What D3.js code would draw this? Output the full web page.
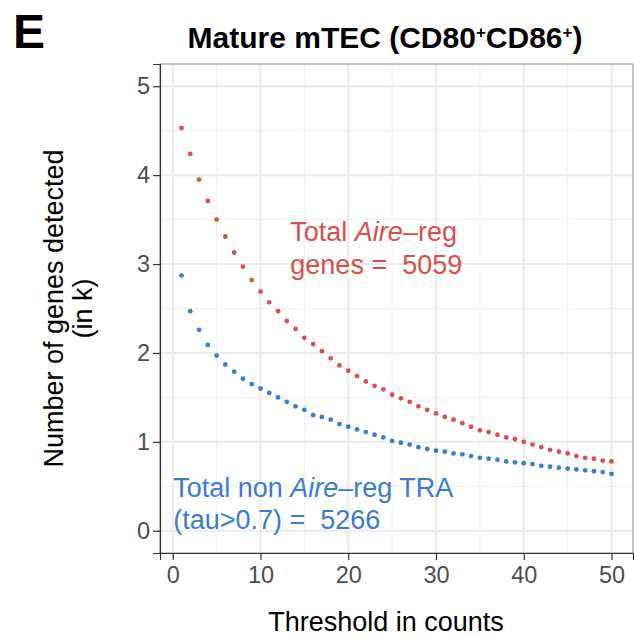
<!DOCTYPE html>
<html>
<head>
<meta charset="utf-8">
<script src="https://cdn.jsdelivr.net/npm/d3@7"></script>
<style>
  body { margin: 0; background: #fff; }
  text { font-family: 'Liberation Sans', Arial, sans-serif; }
</style>
</head>
<body>
<div id="chart"></div>
<script>
const thresholds = [1, 2, 3, 4, 5, 6, 7, 8, 9, 10, 11, 12, 13, 14, 15, 16, 17, 18, 19, 20,
  21, 22, 23, 24, 25, 26, 27, 28, 29, 30, 31, 32, 33, 34, 35, 36, 37, 38, 39, 40,
  41, 42, 43, 44, 45, 46, 47, 48, 49, 50]

// genes detected (in k), Aire-regulated
const aireReg = [4.53, 4.24, 3.95, 3.71, 3.50, 3.31, 3.13, 2.97, 2.82, 2.69,
  2.57, 2.47, 2.36, 2.27, 2.17, 2.10, 2.02, 1.94, 1.86, 1.80,
  1.74, 1.68, 1.63, 1.59, 1.53, 1.49, 1.45, 1.40, 1.36, 1.32,
  1.28, 1.25, 1.21, 1.17, 1.13, 1.11, 1.08, 1.05, 1.03, 1.00,
  0.97, 0.94, 0.91, 0.89, 0.87, 0.84, 0.82, 0.81, 0.79, 0.78]

// genes detected (in k), non Aire-regulated TRA
const nonAireTra = [2.87, 2.47, 2.26, 2.09, 1.97, 1.87, 1.79, 1.71, 1.65, 1.60,
  1.55, 1.50, 1.45, 1.40, 1.36, 1.30, 1.28, 1.25, 1.20, 1.17,
  1.14, 1.11, 1.08, 1.05, 1.01, 0.99, 0.97, 0.94, 0.92, 0.90,
  0.89, 0.87, 0.86, 0.84, 0.82, 0.81, 0.80, 0.78, 0.77, 0.76,
  0.75, 0.73, 0.72, 0.71, 0.70, 0.69, 0.68, 0.67, 0.66, 0.64]

const xTicks = [0, 10, 20, 30, 40, 50]
const yTicks = [0, 1, 2, 3, 4, 5]
const xMinor = [5, 15, 25, 35, 45]
const yMinor = [0.5, 1.5, 2.5, 3.5, 4.5]

const red = '#d4504f'
const blue = '#3d7cc6'

const W = 634, H = 637
const margin = { top: 64, left: 160, right: 1, bottom: 84 }
const width = W - margin.left - margin.right
const height = H - margin.top - margin.bottom

const svg = d3.select('#chart')
  .append('svg')
  .attr('width', W)
  .attr('height', H)

const x = d3.scaleLinear().domain([-1.45, 52.45]).range([margin.left, margin.left + width])
const y = d3.scaleLinear().domain([-0.25, 5.25]).range([margin.top + height, margin.top])

// panel gridlines
const grid = svg.append('g')
grid.selectAll('.xminor').data(xMinor).enter().append('line')
  .attr('x1', d => x(d)).attr('x2', d => x(d))
  .attr('y1', margin.top).attr('y2', margin.top + height)
  .attr('stroke', '#f0f0f0').attr('stroke-width', 1)
grid.selectAll('.yminor').data(yMinor).enter().append('line')
  .attr('y1', d => y(d)).attr('y2', d => y(d))
  .attr('x1', margin.left).attr('x2', margin.left + width)
  .attr('stroke', '#f0f0f0').attr('stroke-width', 1)
grid.selectAll('.xmajor').data(xTicks).enter().append('line')
  .attr('x1', d => x(d)).attr('x2', d => x(d))
  .attr('y1', margin.top).attr('y2', margin.top + height)
  .attr('stroke', '#ebebeb').attr('stroke-width', 2)
grid.selectAll('.ymajor').data(yTicks).enter().append('line')
  .attr('y1', d => y(d)).attr('y2', d => y(d))
  .attr('x1', margin.left).attr('x2', margin.left + width)
  .attr('stroke', '#ebebeb').attr('stroke-width', 2)

// panel border
svg.append('rect')
  .attr('x', margin.left).attr('y', margin.top)
  .attr('width', width).attr('height', height)
  .attr('fill', 'none').attr('stroke', '#8a8a8a').attr('stroke-width', 1)

// points
svg.append('g').selectAll('circle')
  .data(thresholds).enter().append('circle')
  .attr('cx', d => x(d))
  .attr('cy', (d, i) => y(aireReg[i]))
  .attr('r', 2.4)
  .attr('fill', red)

svg.append('g').selectAll('circle')
  .data(thresholds).enter().append('circle')
  .attr('cx', d => x(d))
  .attr('cy', (d, i) => y(nonAireTra[i]))
  .attr('r', 2.4)
  .attr('fill', blue)

/* axes */
const xAxis = svg.append('g')
  .attr('transform', 'translate(0,' + (margin.top + height) + ')')
  .call(d3.axisBottom(x).tickValues(xTicks).tickFormat(d3.format('d')).tickSize(7).tickPadding(6))
const yAxis = svg.append('g')
  .attr('transform', 'translate(' + margin.left + ',0)')
  .call(d3.axisLeft(y).tickValues(yTicks).tickFormat(d3.format('d')).tickSize(7).tickPadding(3))

;[xAxis, yAxis].forEach(a => {
  a.select('.domain').attr('stroke', '#333').attr('stroke-width', 1.2)
  a.selectAll('.tick line').attr('stroke', '#333').attr('stroke-width', 1.2)
  a.selectAll('.tick text')
    .attr('fill', '#4d4d4d')
    .attr('font-size', 23.5)
    .attr('font-family', "'Liberation Sans', Arial, sans-serif")
})

// titles
svg.append('text')
  .text('E')
  .attr('x', 13).attr('y', 48)
  .attr('font-size', 48)
  .attr('font-weight', 'bold')

const title = svg.append('text')
  .attr('x', 385).attr('y', 48)
  .attr('text-anchor', 'middle')
  .attr('font-size', 30)
  .attr('font-weight', 'bold')
title.append('tspan').text('Mature mTEC (CD80')
title.append('tspan').text('+').attr('font-size', 17).attr('dy', -10)
title.append('tspan').text('CD86').attr('dy', 10)
title.append('tspan').text('+').attr('font-size', 17).attr('dy', -10)
title.append('tspan').text(')').attr('dy', 10)

svg.append('text')
  .text('Threshold in counts')
  .attr('x', 386).attr('y', 631)
  .attr('text-anchor', 'middle')
  .attr('font-size', 27)

const yTitle = svg.append('g')
  .attr('transform', 'translate(0,' + (margin.top + height / 2) + ') rotate(-90)')
yTitle.append('text').text('Number of genes detected')
  .attr('x', 0).attr('y', 63)
  .attr('text-anchor', 'middle').attr('font-size', 27)
yTitle.append('text').text('(in k)')
  .attr('x', 0).attr('y', 92)
  .attr('text-anchor', 'middle').attr('font-size', 27)

// annotations
const redLabel = svg.append('text')
  .attr('x', x(13.4)).attr('y', y(3.26))
  .attr('fill', red).attr('font-size', 27)
redLabel.append('tspan').text('Total ')
redLabel.append('tspan').text('Aire').attr('font-style', 'italic')
redLabel.append('tspan').text('–reg')
svg.append('text')
  .attr('x', x(13.4)).attr('y', y(2.885))
  .attr('fill', red).attr('font-size', 27)
  .attr('xml:space', 'preserve')
  .text('genes =  5059')

const blueLabel = svg.append('text')
  .attr('x', x(0.05)).attr('y', y(0.38))
  .attr('fill', blue).attr('font-size', 27)
blueLabel.append('tspan').text('Total non ')
blueLabel.append('tspan').text('Aire').attr('font-style', 'italic')
blueLabel.append('tspan').text('–reg TRA')
svg.append('text')
  .attr('x', x(0.05)).attr('y', y(0.02))
  .attr('fill', blue).attr('font-size', 27)
  .attr('xml:space', 'preserve')
  .text('(tau>0.7) =  5266')
</script>
</body>
</html>
